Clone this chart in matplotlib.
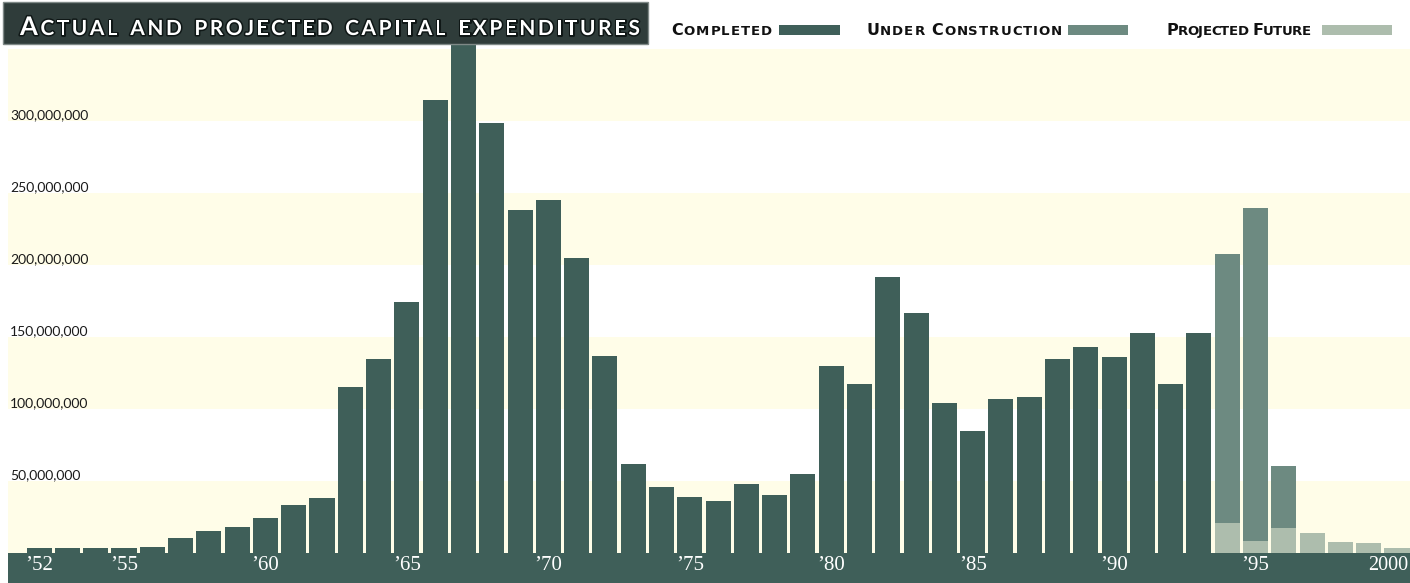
import matplotlib
matplotlib.use('Agg')
import matplotlib.pyplot as plt
import matplotlib.patheffects as pe
import matplotlib.transforms as mtransforms
from matplotlib.patches import Rectangle

# ---------------- data (millions of dollars) ----------------
years = list(range(1952, 2001))
completed = [3, 3, 3, 3, 4, 10, 15, 18, 24, 33,
             38, 115, 135, 174, 315, 360, 299, 238, 245, 205,
             137, 62, 46, 39, 36, 48, 40, 55, 130, 117,
             192, 167, 104, 85, 107, 108, 135, 143, 136, 153,
             117, 153, 0, 0, 0, 0, 0, 0, 0]
under_construction = [0] * 42 + [187, 232, 43, 0, 0, 0, 0]
projected_future = [0] * 42 + [21, 8, 17, 14, 7.5, 7, 3.5]

ytick_values = [50, 100, 150, 200, 250, 300]
ytick_labels = ['50,000,000', '100,000,000', '150,000,000',
                '200,000,000', '250,000,000', '300,000,000']
xtick_years = [1952, 1955, 1960, 1965, 1970, 1975, 1980, 1985, 1990, 1995, 2000]
xtick_labels = ['\u201952', '\u201955', '\u201960', '\u201965', '\u201970', '\u201975',
                '\u201980', '\u201985', '\u201990', '\u201995', '2000']
title_text = 'Actual and projected capital expenditures'
legend_labels = ['Completed', 'Under Construction', 'Projected Future']

# ---------------- styles ----------------
C_DONE = '#3f5f59'
C_UC = '#6d8a81'
C_PROJ = '#adbdad'
C_YELLOW = '#fffde8'
C_BOX = '#2f3c3a'

W, H = 1410, 583
fig = plt.figure(figsize=(W / 100, H / 100), dpi=100)
fig.patch.set_facecolor('white')

top_px = 45
ax = fig.add_axes([8 / W, 0, (W - 8) / W, (H - top_px) / H])
ax.set_xlim(1950.9, 2000.46)
ax.set_ylim(-21, 353)
ax.axis('off')

# background stripes
for lo in [0, 100, 200, 300]:
    ax.axhspan(lo, lo + 50, color=C_YELLOW, zorder=0, lw=0)

bw = 0.885
ax.bar(years, completed, width=bw, color=C_DONE, lw=0, zorder=2)
ax.bar(years, projected_future, width=bw, color=C_PROJ, lw=0, zorder=2)
ax.bar(years, under_construction, width=bw, bottom=projected_future,
       color=C_UC, lw=0, zorder=2)

# dark base band
ax.axhspan(-21, 0, color=C_DONE, zorder=3, lw=0)

for yr, lab in zip(xtick_years, xtick_labels):
    if yr == 2000:
        ax.text(0.9985, -9, lab, transform=mtransforms.blended_transform_factory(
            ax.transAxes, ax.transData), ha='right', va='center', color='white',
            fontsize=14.5, family='Liberation Serif', zorder=4)
    else:
        ax.text(yr, -9, lab, ha='center', va='center', color='white',
                fontsize=15, family='Liberation Serif', zorder=4)

trans = mtransforms.blended_transform_factory(ax.transAxes, ax.transData)
for v, lab in zip(ytick_values, ytick_labels):
    ax.text(0.0015, v + 1.2, lab, transform=trans, ha='left', va='baseline',
            fontsize=10, family='Lato', color='#1a1a1a', zorder=4)

# ---------------- title box & legend ----------------
fig.patches.append(Rectangle((3 / W, 1 - 44 / H), 645 / W, 42 / H,
                             transform=fig.transFigure, facecolor=C_BOX,
                             edgecolor='#7f8987', lw=1, zorder=5))

renderer = fig.canvas.get_renderer()


def smallcaps(text, x0, x1, ybase, big, small, **kw):
    parts = []
    for ch in text:
        if ch == ' ':
            parts.append((' ', small))
        elif ch.isupper():
            parts.append((ch, big))
        else:
            parts.append((ch.upper(), small))
    objs, widths = [], []
    for ch, sz in parts:
        if ch == ' ':
            objs.append(None)
            widths.append(sz * 0.5)
            continue
        t = fig.text(0, 1 - ybase / H, ch, fontsize=sz, va='baseline', ha='left', **kw)
        widths.append(t.get_window_extent(renderer).width)
        objs.append(t)
    n = len(parts)
    extra = ((x1 - x0) - sum(widths)) / max(n - 1, 1)
    x = x0
    for t, w in zip(objs, widths):
        if t is not None:
            t.set_x(x / W)
        x += w + extra


smallcaps(title_text, 20, 640, 35, 18.5, 15, color='white', family='Lato',
          weight='bold', zorder=6,
          path_effects=[pe.withStroke(linewidth=2.2, foreground='#0f1716')])

leg = [(legend_labels[0], 671, 772, 779, 840, C_DONE),
       (legend_labels[1], 866, 1062, 1068, 1128, C_UC),
       (legend_labels[2], 1166, 1311, 1322, 1392, C_PROJ)]
for lab, x0, x1, s0, s1, col in leg:
    smallcaps(lab, x0, x1, 35, 11.5, 9.5, color='#111111', family='DejaVu Sans',
              weight='bold', zorder=6)
    fig.patches.append(Rectangle((s0 / W, 1 - 35 / H), (s1 - s0) / W, 10 / H,
                                 transform=fig.transFigure, facecolor=col,
                                 lw=0, zorder=5))

fig.savefig('out.png', dpi=100)
